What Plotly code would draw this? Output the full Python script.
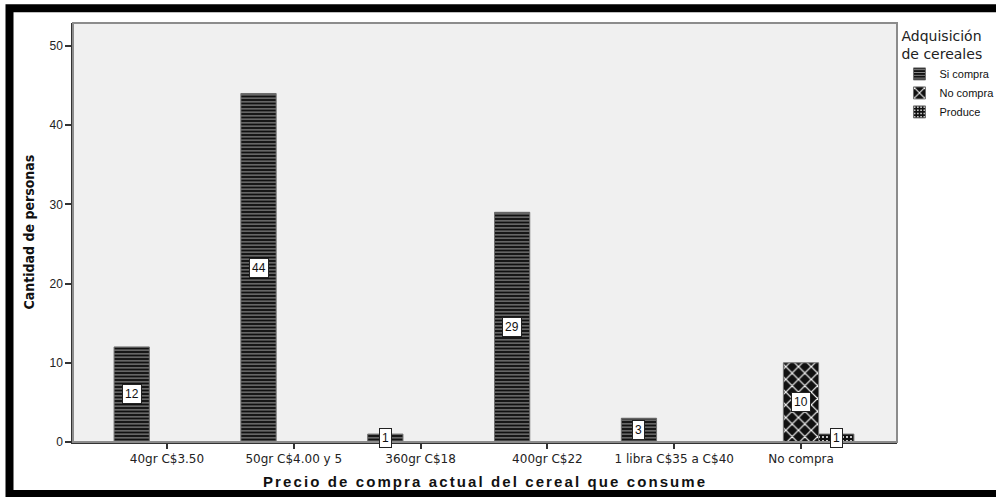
import plotly.graph_objects as go

categories = ["40gr C$3.50", "50gr C$4.00 y 5", "360gr C$18", "400gr C$22",
              "1 libra C$35 a C$40", "No compra"]
si_compra = [12, 44, 1, 29, 3, None]
no_compra = [None, None, None, None, None, 10]
produce = [None, None, None, None, None, 1]
series_names = ["Si compra", "No compra", "Produce"]
y_ticks = [0, 10, 20, 30, 40, 50]
x_title = "Precio de compra actual del cereal que consume"
y_title = "Cantidad de personas"
legend_title = "Adquisición<br>de cereales"

W, H = 996, 497
L, R, T, B = 73, 99, 23, 55
PW, PH = W - L - R, H - T - B
BARGAP = 0.166


def px_x(px):
    return (px - L) / PW


def px_y(py):
    return (H - B - py) / PH


styles = [
    dict(shape="-", fg="#8a8a8a", size=3.5, solidity=0.35),
    dict(shape="x", fg="#ffffff", size=9, solidity=0.25),
    dict(shape=".", fg="#ffffff", size=4, solidity=0.2),
]

fig = go.Figure()
all_series = [si_compra, no_compra, produce]
for name, vals, st in zip(series_names, all_series, styles):
    fig.add_trace(go.Bar(
        name=name, x=categories, y=vals,
        marker=dict(
            color="#111111",
            line=dict(color="#6e6e6e", width=1),
            pattern=dict(shape=st["shape"], fillmode="replace", bgcolor="#111111",
                         fgcolor=st["fg"], size=st["size"], solidity=st["solidity"]),
        ),
        hoverinfo="x+y+name",
    ))

# value labels in white boxes at bar mid-height
slot = (1 - BARGAP) / 3
annotations = []
for j, vals in enumerate(all_series):
    for i, v in enumerate(vals):
        if v is None:
            continue
        annotations.append(dict(
            x=i + (j - 1) * slot, y=v / 2, xref="x", yref="y",
            xanchor="center", yanchor="middle",
            text=str(v), showarrow=False,
            font=dict(family="Liberation Sans, Arial, sans-serif", size=12, color="#111111"),
            bgcolor="white", bordercolor="#222222", borderwidth=1, borderpad=2,
        ))

# axis titles
annotations.append(dict(
    x=px_x(28), y=0.5, xref="paper", yref="paper", textangle=-90,
    xanchor="center", yanchor="middle",
    text="<b>" + y_title + "</b>", showarrow=False,
    font=dict(family="Liberation Sans Narrow, Arial Narrow, DejaVu Sans Condensed, sans-serif",
              size=14, color="#111111"),
))
annotations.append(dict(
    x=0.5, y=px_y(481), xref="paper", yref="paper",
    xanchor="center", yanchor="middle",
    text="<span style='letter-spacing:2.1px'><b>" + x_title + "</b></span>",
    showarrow=False,
    font=dict(family="Liberation Sans, Arial, sans-serif", size=15, color="#111111"),
))

shapes = [
    # plot border
    dict(type="rect", xref="paper", yref="paper", x0=0, y0=0, x1=1, y1=1,
         line=dict(color="#8c8c8c", width=2), layer="above"),
    # outer black frame
    dict(type="rect", xref="paper", yref="paper",
         x0=px_x(9.5), y0=px_y(8.3), x1=px_x(1003), y1=px_y(494),
         line=dict(color="black", width=8), layer="above"),
]

fig.update_layout(
    width=W, height=H,
    margin=dict(l=L, r=R, t=T, b=B, autoexpand=False),
    paper_bgcolor="white", plot_bgcolor="#f0f0f0",
    barmode="group", bargap=BARGAP, bargroupgap=0,
    font=dict(family="Liberation Sans, Arial, sans-serif", size=12, color="#222222"),
    xaxis=dict(
        type="category", categoryorder="array", categoryarray=categories,
        range=[-0.741, 5.757],
        showgrid=False, zeroline=False, showline=True, linecolor="#333333", linewidth=1.5,
        ticks="outside", ticklen=5, tickcolor="#333333", tickwidth=1.5,
        tickfont=dict(family="DejaVu Sans, sans-serif", size=12, color="#222222"),
    ),
    yaxis=dict(
        range=[0, 52.9], tickvals=y_ticks, showgrid=False, zeroline=False,
        showline=True, linecolor="#333333", linewidth=1.5,
        ticks="outside", ticklen=6, tickcolor="#333333", tickwidth=1.5,
        tickfont=dict(family="Liberation Sans, Arial, sans-serif", size=12, color="#222222"),
    ),
    legend=dict(
        x=1.003, y=1.0, xanchor="left", yanchor="top",
        title=dict(text=legend_title,
                   font=dict(family="DejaVu Sans, sans-serif", size=14, color="#222222"),
                   side="top"),
        font=dict(family="Liberation Sans, Arial, sans-serif", size=11, color="#111111"),
        bgcolor="rgba(0,0,0,0)", itemwidth=30, tracegroupgap=0,
    ),
    annotations=annotations, shapes=shapes,
)

fig.write_html("out.html")
